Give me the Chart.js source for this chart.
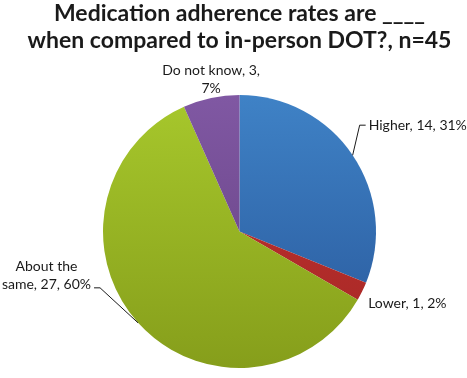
<!DOCTYPE html>
<html><head><meta charset="utf-8">
<script src="https://cdn.jsdelivr.net/npm/chart.js@4/dist/chart.umd.min.js"></script>
<style>html,body{margin:0;padding:0;background:#fff}#wrap{width:467px;height:378px;position:relative}</style>
</head><body><div id="wrap"><canvas id="c" width="467" height="378"></canvas></div>
<script>
// ---- data ----
const categories = ["Higher", "Lower", "About the same", "Do not know"];
const counts = [14, 1, 27, 3];
const titleLines = ["Medication adherence rates are ____", "when compared to in-person DOT?, n=45"];

// ---- styles ----
const colorsTop = ["#3f82c6", "#c4322f", "#a7c82c", "#8058a3"];
const colorsBottom = ["#28579a", "#a52826", "#869e1b", "#643f80"];
const labelFont = "14px Lato";
const labelLineHeight = 18;
const labelStyle = [
  {mode: "leader", elbow: [7, -30], tail: 6, gap: 3, align: "left", breakAfter: null},
  {mode: "offset", offset: [6, 12], align: "left", breakAfter: null},
  {mode: "leader", elbow: [-38, -35], tail: -6, gap: 3, align: "right", breakAfter: 2, lift: -3},
  {mode: "above", offset: [0, -10], align: "center", breakAfter: 4}
];

function sliceGradient(ctx) {
  const chart = ctx.chart; const a = chart.chartArea;
  if (!a) return colorsTop[ctx.dataIndex];
  const g = chart.ctx.createLinearGradient(0, a.top, 0, a.bottom);
  g.addColorStop(0, colorsTop[ctx.dataIndex]);
  g.addColorStop(1, colorsBottom[ctx.dataIndex]);
  return g;
}

const labelPlugin = {
  id: "pieLabels",
  afterDatasetsDraw(chart) {
    const c = chart.ctx;
    const meta = chart.getDatasetMeta(0);
    const total = counts.reduce((s, v) => s + v, 0);
    c.save();
    c.font = labelFont;
    c.fillStyle = "#1a1a1a";
    c.strokeStyle = "#1a1a1a";
    c.lineWidth = 1;
    c.textBaseline = "middle";
    meta.data.forEach((arc, i) => {
      const st = labelStyle[i];
      const mid = (arc.startAngle + arc.endAngle) / 2;
      const ex = arc.x + arc.outerRadius * Math.cos(mid);
      const ey = arc.y + arc.outerRadius * Math.sin(mid);
      const full = categories[i] + ", " + counts[i] + ", " + Math.round(100 * counts[i] / total) + "%";
      let lines = [full];
      if (st.breakAfter) {
        const w = full.split(" ");
        lines = [w.slice(0, st.breakAfter).join(" "), w.slice(st.breakAfter).join(" ")];
      }
      const widths = lines.map(l => c.measureText(l).width);
      const bw = Math.max(...widths);
      let ax, ay;
      if (st.mode === "leader") {
        const bx = ex + st.elbow[0], by = ey + st.elbow[1];
        const tx = bx + st.tail;
        c.beginPath(); c.moveTo(ex, ey); c.lineTo(bx, by); c.lineTo(tx, by); c.stroke();
        ax = tx + (st.tail > 0 ? st.gap : -st.gap);
        ay = by + (st.lift || 0);
      } else {
        ax = ex + st.offset[0]; ay = ey + st.offset[1];
      }
      let cx;
      if (st.align === "left") cx = ax + bw / 2;
      else if (st.align === "right") cx = ax - bw / 2;
      else cx = ax;
      c.textAlign = "center";
      const n = lines.length;
      lines.forEach((l, k) => {
        c.fillText(l, cx, ay - (n - 1 - k) * labelLineHeight);
      });
    });
    c.restore();
  }
};

function draw() {
  new Chart(document.getElementById("c"), {
    type: "pie",
    data: {labels: categories, datasets: [{data: counts, backgroundColor: sliceGradient, borderWidth: 0}]},
    options: {
      responsive: false, animation: false,
      layout: {padding: {top: 0, bottom: 10, left: 12, right: 0}},
      plugins: {
        legend: {display: false},
        tooltip: {enabled: false},
        title: {
          display: true, text: titleLines, color: "#1a1a1a",
          font: {family: "Lato", size: 23, weight: "bold", lineHeight: 1.174},
          padding: {top: 0, bottom: 41}
        }
      }
    },
    plugins: [labelPlugin]
  });
}
Promise.all([document.fonts.load("bold 23px Lato"), document.fonts.load("14px Lato")]).then(draw, draw);
</script>
</body></html>
